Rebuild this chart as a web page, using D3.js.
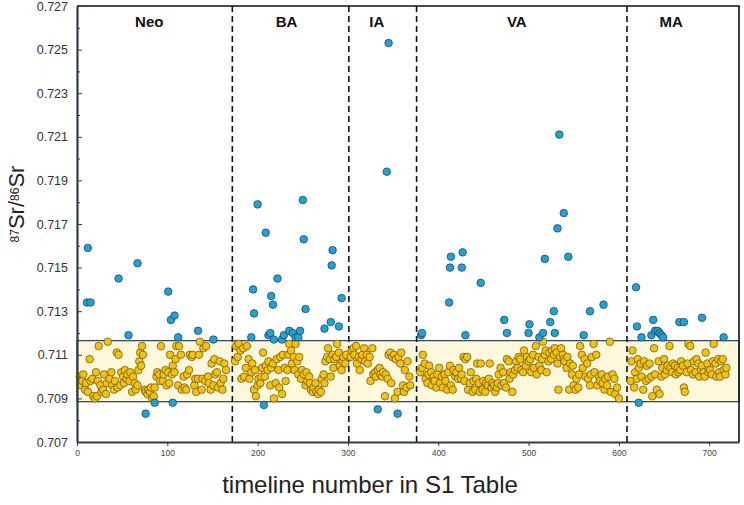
<!DOCTYPE html>
<html>
<head>
<meta charset="utf-8">
<script src="https://cdn.jsdelivr.net/npm/d3@7"></script>
<style>
  body { margin: 0; background: #fff; font-family: "Liberation Sans", Arial, sans-serif; }
  .axis text { fill: #333; }
</style>
</head>
<body>
<div id="chart"></div>
<script>
// --- data (87Sr/86Sr per timeline number) ---

// periods: name, label anchor (timeline no.), boundaries between periods
const periodNames = ['Neo', 'BA', 'IA', 'VA', 'MA'];
const periodLabelX = [80, 232, 332, 487, 658];
const periodBreaks = [172, 301, 376, 609];

// local bioavailable range (yellow band)
const bandRange = [0.70885, 0.71165];

// samples inside the range, one entry per timeline number from *Start
// (null = no value inside the range at that number)
const neoStart = 3;
const neoSr = [
  0.7100, 0.7096, null, 0.7098, 0.7101, null, 0.7094, 0.7097, null, 0.7093,
  null, 0.7108, 0.7098, null, 0.7099, 0.7091, null, 0.7090, 0.7102, 0.7091,
  0.7098, 0.7114, null, 0.7096, 0.7093, null, 0.7094, 0.7101, null, 0.7092,
  0.7097, 0.7116, null, 0.7099, null, 0.7102, 0.7096, null, 0.7094, 0.7098,
  null, 0.7111, 0.7095, 0.7110, null, 0.7096, 0.7102, null, 0.7100, 0.7097,
  0.7103, null, 0.7099, 0.7101, null, 0.7098, 0.7102, null, 0.7093, 0.7100,
  null, 0.7097, 0.7094, null, 0.7096, 0.7103, 0.7107, 0.7111, 0.7105, 0.7114,
  0.7110, null, 0.7094, 0.7093, null, 0.7092, 0.7094, null, 0.7093, 0.7095,
  0.7090, null, 0.7091, 0.7095, null, 0.7100, 0.7102, null, 0.7101, 0.7098,
  0.7114, null, 0.7098, 0.7101, null, 0.7103, 0.7096, null, 0.7102, 0.7097,
  0.7110, null, 0.7101, 0.7105, null, 0.7102, 0.7108, 0.7114, null, 0.7096,
  0.7114, null, 0.7110, 0.7094, null, 0.7100, 0.7095, null, 0.7094, 0.7101,
  null, 0.7103, 0.7110, null, 0.7109, 0.7110, null, 0.7096, 0.7099, 0.7093,
  null, 0.7099, 0.7110, 0.7116, null, 0.7094, 0.7099, 0.7113, null, 0.7098,
  0.7114, null, 0.7100, 0.7097, null, 0.7094, 0.7106, null, 0.7096, 0.7108,
  0.7101, null, 0.7102, 0.7095, null, 0.7107, 0.7097, null, 0.7094, 0.7099,
  0.7106, null, 0.7103
];

const baStart = 175;
const baSr = [
  0.7107, 0.7114, null, 0.7109, 0.7115, null, 0.7112, 0.7099, null, 0.7113,
  0.7100, null, 0.7104, 0.7114, null, 0.7108, 0.7099, null, 0.7102, 0.7106,
  null, 0.7094, 0.7103, 0.7091, null, 0.7096, 0.7099, null, 0.7097, 0.7100,
  0.7104, 0.7111, null, 0.7100, 0.7105, null, 0.7103, 0.7107, null, 0.7096,
  0.7104, null, 0.7106, 0.7090, null, 0.7097, 0.7108, null, 0.7103, 0.7095,
  0.7109, null, 0.7092, 0.7110, null, 0.7104, 0.7098, null, 0.7103, 0.7110,
  0.7115, null, 0.7112, 0.7106, null, 0.7109, 0.7103, 0.7115, null, 0.7107,
  0.7101, 0.7109, null, 0.7099, 0.7103, null, 0.7101, null, 0.7096, 0.7102,
  0.7098, null, 0.7100, 0.7097, 0.7094, null, 0.7093, 0.7095, null, 0.7097,
  0.7093, null, 0.7092, 0.7094, null, 0.7093, 0.7099, null, 0.7101, 0.7097,
  0.7107, null, 0.7109, 0.7113, null, 0.7108, 0.7100, null, 0.7110, 0.7104,
  0.7108, null, 0.7109, 0.7115, null, 0.7111, 0.7105, null, 0.7103, 0.7107,
  0.7109, null, 0.7106, 0.7110
];

const iaStart = 303;
const iaSr = [
  0.7109, 0.7112, null, 0.7113, 0.7110, null, 0.7114, 0.7106, null, 0.7109,
  0.7103, null, 0.7108, 0.7110, null, 0.7113, 0.7107, null, 0.7110, 0.7106,
  null, 0.7109, 0.7098, null, 0.7113, 0.7101, null, 0.7102, 0.7100, null,
  0.7103, null, 0.7104, 0.7101, null, 0.7100, 0.7102, null, 0.7091, 0.7101,
  null, 0.7099, 0.7110, null, 0.7111, 0.7097, 0.7109, null, 0.7110, 0.7090,
  0.7108, null, 0.7093, 0.7109, null, 0.7106, 0.7111, null, 0.7096, 0.7093,
  0.7103, null, 0.7095, 0.7107, null, 0.7100, 0.7096, null
];

const vaStart = 380;
const vaSr = [
  0.7102, null, 0.7104, 0.7110, null, 0.7106, 0.7099, null, 0.7097, 0.7101,
  0.7105, null, 0.7102, 0.7096, null, 0.7100, 0.7098, null, 0.7095, 0.7101,
  null, 0.7104, 0.7097, null, 0.7100, 0.7095, null, 0.7101, 0.7098, null,
  0.7094, 0.7102, null, 0.7105, 0.7096, null, 0.7094, 0.7103, null, 0.7100,
  0.7102, null, 0.7099, 0.7104, null, 0.7099, 0.7101, null, 0.7109, 0.7098,
  0.7108, null, 0.7109, 0.7094, null, 0.7097, 0.7102, null, 0.7093, 0.7098,
  null, 0.7094, 0.7099, 0.7106, null, 0.7097, 0.7093, 0.7106, null, 0.7094,
  0.7098, null, 0.7093, 0.7097, null, 0.7096, 0.7099, 0.7106, null, 0.7095,
  0.7097, null, 0.7096, 0.7093, null, 0.7095, 0.7097, 0.7101, null, 0.7104,
  0.7096, null, 0.7102, 0.7097, null, 0.7095, 0.7108, null, 0.7107, 0.7099,
  0.7102, null, 0.7093, 0.7101, null, 0.7103, 0.7107, null, 0.7104, 0.7109,
  null, 0.7108, 0.7103, null, 0.7102, 0.7112, null, 0.7105, 0.7109, null,
  0.7107, null, 0.7108, 0.7102, null, 0.7110, 0.7104, null, 0.7114, 0.7101,
  null, 0.7109, 0.7105, null, 0.7103, 0.7108, 0.7116, null, 0.7110, 0.7112,
  0.7102, null, 0.7107, 0.7111, null, 0.7108, 0.7112, null, 0.7110, 0.7113,
  null, 0.7111, 0.7106, 0.7094, null, 0.7109, 0.7113, null, 0.7110, 0.7108,
  0.7107, null, 0.7104, 0.7109, null, 0.7094, 0.7106, null, 0.7101, 0.7105,
  0.7096, null, 0.7094, 0.7099, null, 0.7095, 0.7101, 0.7114, null, 0.7110,
  0.7104, null, 0.7108, 0.7100, null, 0.7106, 0.7099, null, 0.7096, 0.7101,
  0.7109, null, 0.7115, 0.7102, null, 0.7110, 0.7096, null, 0.7100, 0.7098,
  null, 0.7101, 0.7097, null, 0.7094, 0.7099, null, 0.7096, 0.7100, null,
  0.7116, 0.7093, null, 0.7101, null, 0.7099, 0.7092, null, 0.7095, null,
  0.7090
];

const maStart = 612;
const maSr = [
  null, 0.7098, 0.7107, 0.7112, null, 0.7095, 0.7102, null, 0.7099, 0.7108,
  0.7104, null, 0.7106, 0.7100, null, 0.7094, 0.7107, null, 0.7098, 0.7105,
  null, 0.7099, 0.7106, null, 0.7100, 0.7091, null, 0.7113, 0.7101, null,
  0.7094, null, 0.7107, 0.7092, null, 0.7100, 0.7104, null, 0.7108, 0.7101,
  null, 0.7103, 0.7105, null, 0.7114, 0.7104, null, 0.7102, 0.7106, null,
  0.7105, 0.7101, null, 0.7104, 0.7102, null, 0.7103, 0.7107, null, 0.7105,
  0.7095, 0.7093, null, 0.7102, 0.7106, 0.7115, null, 0.7114, 0.7103, null,
  0.7101, 0.7107, null, 0.7102, 0.7108, null, 0.7106, 0.7100, null, 0.7103,
  0.7105, null, 0.7102, 0.7100, 0.7111, null, 0.7106, 0.7102, null, 0.7103,
  null, 0.7101, 0.7107, 0.7115, null, 0.7106, 0.7100, null, 0.7108, 0.7102,
  0.7100, 0.7107, null, 0.7108, 0.7103, null, 0.7101, 0.7104
];

// samples outside the range: [timeline no., 87Sr/86Sr]
const outliers = [
  [11, 0.7134], [12, 0.7159], [15, 0.7134], [46, 0.7145], [57, 0.7119], [67, 0.7152],
  [76, 0.7083], [86, 0.7088], [101, 0.7139], [104, 0.7126], [106, 0.7088], [108, 0.7128],
  [112, 0.7118], [134, 0.7121], [151, 0.7117],
  [193, 0.7118], [195, 0.7140], [196, 0.7129], [200, 0.7179], [207, 0.7087], [209, 0.7166],
  [212, 0.7119], [214, 0.7120], [215, 0.7137], [217, 0.7133], [218, 0.7117], [222, 0.7145],
  [227, 0.7117], [229, 0.7119], [235, 0.7121], [239, 0.7120], [242, 0.7118], [245, 0.7118],
  [247, 0.7121], [250, 0.7181], [251, 0.7163], [253, 0.7131], [274, 0.7122], [281, 0.7125],
  [282, 0.7151], [283, 0.7158], [290, 0.7123], [293, 0.7136],
  [333, 0.7085], [343, 0.7194], [345, 0.7253], [355, 0.7083],
  [381, 0.7119], [382, 0.7120], [412, 0.7134], [413, 0.7150], [414, 0.7155], [426, 0.7150],
  [427, 0.7157], [430, 0.7119], [447, 0.7143], [473, 0.7126], [476, 0.7120], [500, 0.7120],
  [501, 0.7124], [512, 0.7118], [516, 0.7120], [518, 0.7154], [524, 0.7125], [528, 0.7130],
  [529, 0.7120], [532, 0.7168], [534, 0.7211], [539, 0.7175], [544, 0.7155], [561, 0.7119],
  [568, 0.7130], [583, 0.7133],
  [619, 0.7141], [620, 0.7123], [622, 0.7088], [625, 0.7118], [636, 0.7119], [638, 0.7126],
  [640, 0.7121], [643, 0.7121], [645, 0.7120], [647, 0.7119], [649, 0.7118], [667, 0.7125],
  [672, 0.7125], [692, 0.7127], [716, 0.7118]
];

const xTicks = [0, 100, 200, 300, 400, 500, 600, 700];
const yTicksMajor = [0.707, 0.709, 0.711, 0.713, 0.715, 0.717, 0.719, 0.721, 0.723, 0.725, 0.727];
const yTicksMinor = [0.708, 0.710, 0.712, 0.714, 0.716, 0.718, 0.720, 0.722, 0.724, 0.726];

// --- chart ---
const W = 744, H = 505;
const margin = {top: 6, right: 5, bottom: 63, left: 77};

let svg = d3.select('#chart')
  .append('svg')
    .attr('width', W)
    .attr('height', H);

let x = d3.scaleLinear()
  .domain([0, 733])
  .range([margin.left, W - margin.right]);

let y = d3.scaleLinear()
  .domain([0.707, 0.727])
  .range([H - margin.bottom, margin.top]);

// band
svg.append('rect')
  .attr('x', x(0))
  .attr('width', x(733) - x(0))
  .attr('y', y(bandRange[1]))
  .attr('height', y(bandRange[0]) - y(bandRange[1]))
  .attr('fill', '#fdf8db')
  .attr('stroke', '#3b4a57')
  .attr('stroke-width', 1.3);

// period dividers
svg.append('g').selectAll('line')
  .data(periodBreaks)
  .enter()
  .append('line')
    .attr('x1', d => x(d))
    .attr('x2', d => x(d))
    .attr('y1', y(0.727))
    .attr('y2', y(0.707))
    .attr('stroke', '#111')
    .attr('stroke-width', 1.6)
    .attr('stroke-dasharray', '6,4');

// period labels
svg.append('g').selectAll('text')
  .data(periodNames)
  .enter()
  .append('text')
    .attr('x', (d, i) => x(periodLabelX[i]))
    .attr('y', 27)
    .attr('text-anchor', 'middle')
    .style('font-size', '15px')
    .style('font-weight', 'bold')
    .style('fill', '#111')
    .text(d => d);

// points
let inRange = [
  [neoStart, neoSr], [baStart, baSr], [iaStart, iaSr], [vaStart, vaSr], [maStart, maSr]
].flatMap(([start, vals]) => vals.map((v, i) => [start + i, v]))
 .filter(d => d[1] != null);

svg.append('g').selectAll('circle')
  .data(inRange)
  .enter()
  .append('circle')
    .attr('cx', d => x(d[0]))
    .attr('cy', d => y(d[1]))
    .attr('r', 3.8)
    .attr('fill', '#f4c20d')
    .attr('stroke', '#5e4d12')
    .attr('stroke-width', 0.7);

svg.append('g').selectAll('circle')
  .data(outliers)
  .enter()
  .append('circle')
    .attr('cx', d => x(d[0]))
    .attr('cy', d => y(d[1]))
    .attr('r', 3.8)
    .attr('fill', '#1ea3d9')
    .attr('stroke', '#1b3a4d')
    .attr('stroke-width', 0.7);

// frame top / right
svg.append('path')
  .attr('d', `M${x(0)},${y(0.727)}H${x(733)}V${y(0.707)}`)
  .attr('fill', 'none')
  .attr('stroke', '#111')
  .attr('stroke-width', 1.6);

// axes
let yAxis = svg.append('g').attr('class', 'axis')
  .attr('transform', `translate(${x(0)},0)`)
  .call(d3.axisLeft(y).tickValues(yTicksMajor).tickSize(-5).tickSizeOuter(0)
    .tickPadding(9).tickFormat(d3.format('.3f')));
yAxis.selectAll('text').style('font-size', '12.5px').style('font-family', '"Liberation Sans", Arial, sans-serif');

let yMinor = svg.append('g')
  .attr('transform', `translate(${x(0)},0)`)
  .call(d3.axisLeft(y).tickValues(yTicksMinor).tickSize(-3).tickSizeOuter(0).tickFormat(''));
yMinor.select('.domain').remove();

let xAxis = svg.append('g').attr('class', 'axis')
  .attr('transform', `translate(0,${y(0.707)})`)
  .call(d3.axisBottom(x).tickValues(xTicks).tickSize(4).tickSizeOuter(0).tickPadding(4));
xAxis.selectAll('text').style('font-size', '8.5px').style('fill', '#444')
  .style('font-family', '"Liberation Sans", Arial, sans-serif');

svg.selectAll('.axis .domain, .axis .tick line')
  .attr('stroke', '#2f3d4a');
svg.selectAll('.axis .domain').attr('stroke-width', 2.2);
yMinor.selectAll('.tick line').attr('stroke', '#2f3d4a');

// axis titles
svg.append('text')
  .attr('x', 370)
  .attr('y', 493)
  .attr('text-anchor', 'middle')
  .style('font-size', '24px')
  .style('fill', '#222')
  .text('timeline number in S1 Table');

let yTitle = svg.append('text')
  .attr('transform', 'translate(24,204) rotate(-90)')
  .attr('text-anchor', 'middle')
  .style('font-size', '22px')
  .style('fill', '#222');
yTitle.append('tspan').attr('baseline-shift', '40%').style('font-size', '12px').text('87');
yTitle.append('tspan').text('Sr/');
yTitle.append('tspan').attr('baseline-shift', '40%').style('font-size', '12px').text('86');
yTitle.append('tspan').text('Sr');
</script>
</body>
</html>
